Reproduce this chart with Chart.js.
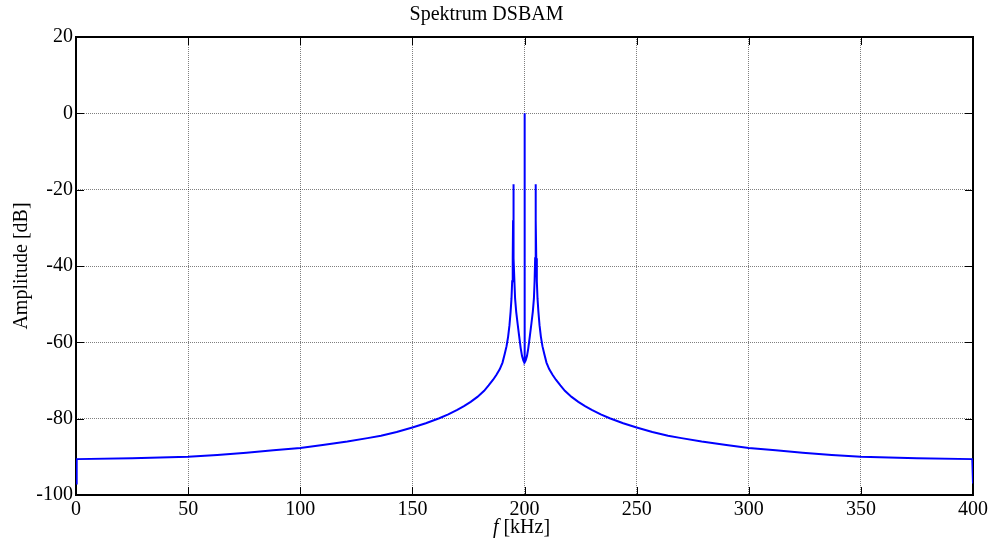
<!DOCTYPE html>
<html>
<head>
<meta charset="utf-8">
<script src="https://cdn.jsdelivr.net/npm/chart.js@4/dist/chart.umd.min.js"></script>
<style>
  html, body { margin: 0; padding: 0; background: #fff; }
  #wrap { width: 992px; height: 542px; position: relative; }
</style>
</head>
<body>
<div id="wrap"><canvas id="c"></canvas></div>
<script>
// spectrum: frequency (kHz) and amplitude (dB)
const freqKHz = [
  0, 0.3, 25, 50, 63, 76, 88, 100, 110, 121, 130, 136, 143, 150, 156, 162, 166, 170,
  173, 176, 179, 182, 184, 186, 187.5, 189, 190.2, 191.2, 192, 192.7, 193.3, 193.8,
  194.2, 194.5, 194.75, 194.9, 195, 195.1, 195.25, 195.5, 195.8, 196.3, 196.9, 197.6,
  198.3, 198.9, 199.5, 199.85, 200, 200.15, 200.5, 201.1, 201.7, 202.4, 203.1, 203.7,
  204.2, 204.5, 204.75, 204.9, 205, 205.1, 205.25, 205.5, 205.8, 206.2, 206.7, 207.3,
  208, 208.8, 209.8, 211, 212.5, 214, 216, 218, 221, 224, 227, 230, 234, 238, 244,
  250, 257, 264, 270, 279, 290, 300, 312, 324, 337, 350, 375, 399.7, 400
];
const ampDb = [
  -97, -90.6, -90.4, -90.0, -89.5, -88.9, -88.3, -87.7, -86.9, -86.0, -85.1, -84.5, -83.5, -82.3, -81.2, -79.9, -78.9, -77.7,
  -76.7, -75.6, -74.3, -72.7, -71.3, -69.8, -68.5, -67.0, -65.3, -63.0, -61.0, -58.5, -55.5, -52,
  -48.5, -44, -38, -28, -18.6, -28, -38, -44, -48.5, -52, -55, -58.3,
  -61.5, -63.6, -64.8, -65.2, 0, -65.2, -64.8, -63.6, -61.5, -58.3, -55, -52,
  -48.5, -44, -38, -28, -18.6, -28, -38, -44, -48.5, -52, -55.5, -58.5,
  -61.0, -63.0, -65.3, -67.0, -68.5, -69.8, -71.3, -72.7, -74.3, -75.6, -76.7, -77.7, -78.9, -79.9, -81.2,
  -82.3, -83.5, -84.5, -85.1, -86.0, -86.9, -87.7, -88.3, -88.9, -89.5, -90.0, -90.4, -90.6, -97
];
const xTicks = [0, 50, 100, 150, 200, 250, 300, 350, 400];
const yTicks = [-100, -80, -60, -40, -20, 0, 20];

const serif = "'Liberation Serif', 'Times New Roman', serif";

// black box + inward tick marks + x title with italic f
const framePlugin = {
  id: 'frame',
  beforeDatasetsDraw(chart) {
    const { ctx, chartArea: a, scales: { x, y } } = chart;
    ctx.save();
    ctx.strokeStyle = '#000';
    ctx.lineWidth = 1;
    ctx.beginPath();
    xTicks.forEach(v => {
      const px = Math.round(x.getPixelForValue(v)) + 0.5;
      ctx.moveTo(px, a.bottom); ctx.lineTo(px, a.bottom - 8);
      ctx.moveTo(px, a.top); ctx.lineTo(px, a.top + 8);
    });
    yTicks.forEach(v => {
      const py = Math.round(y.getPixelForValue(v)) + 0.5;
      ctx.moveTo(a.left, py); ctx.lineTo(a.left + 8, py);
      ctx.moveTo(a.right, py); ctx.lineTo(a.right - 8, py);
    });
    ctx.stroke();
    ctx.lineWidth = 2;
    ctx.strokeRect(a.left, a.top, a.right - a.left, a.bottom - a.top);
    ctx.restore();
  },
  afterDraw(chart) {
    const { ctx, chartArea: a } = chart;
    ctx.save();
    ctx.fillStyle = '#000';
    ctx.textBaseline = 'middle';
    const fTxt = 'f', rest = ' [kHz]';
    ctx.font = 'italic 20px ' + serif;
    const w1 = ctx.measureText(fTxt).width;
    ctx.font = '20px ' + serif;
    const w2 = ctx.measureText(rest).width;
    const cx = (a.left + a.right) / 2 - 3;
    const x0 = cx - (w1 + w2) / 2;
    const ty = 528;
    ctx.font = 'italic 20px ' + serif;
    ctx.fillText(fTxt, x0, ty);
    ctx.font = '20px ' + serif;
    ctx.fillText(rest, x0 + w1, ty);
    ctx.restore();
  }
};

const points = freqKHz.map((f, i) => ({ x: f, y: ampDb[i] }));

new Chart(document.getElementById('c'), {
  type: 'line',
  data: {
    datasets: [{
      data: points,
      borderColor: '#0000ff',
      borderWidth: 2,
      pointRadius: 0,
      tension: 0,
      fill: false
    }]
  },
  options: {
    responsive: true,
    maintainAspectRatio: false,
    animation: false,
    layout: { padding: { left: 0, right: 19, top: 0, bottom: 0 } },
    plugins: {
      legend: { display: false },
      tooltip: { enabled: false },
      title: {
        display: true,
        text: 'Spektrum DSBAM',
        color: '#000',
        font: { family: serif, size: 20, weight: 'normal' },
        padding: { top: 3, bottom: 10 }
      }
    },
    scales: {
      x: {
        type: 'linear',
        min: 0, max: 400,
        afterFit: s => { s.height = 47; },
        afterBuildTicks: s => { s.ticks = xTicks.map(v => ({ value: v })); },
        grid: { color: 'rgba(0,0,0,0.5)', drawTicks: false, lineWidth: 1 },
        border: { display: false, dash: [1, 1] },
        ticks: {
          color: '#000',
          font: { family: serif, size: 20 },
          padding: 3,
          maxRotation: 0,
          callback: v => String(v)
        },
        title: { display: false }
      },
      y: {
        min: -100, max: 20,
        afterFit: s => { s.width = 76; },
        afterBuildTicks: s => { s.ticks = yTicks.map(v => ({ value: v })); },
        grid: { color: 'rgba(0,0,0,0.5)', drawTicks: false, lineWidth: 1 },
        border: { display: false, dash: [1, 1] },
        ticks: {
          color: '#000',
          font: { family: serif, size: 20 },
          padding: 3,
          callback: v => String(v)
        },
        title: {
          display: true,
          text: 'Amplitude [dB]',
          color: '#000',
          font: { family: serif, size: 20 },
          padding: { top: 10, bottom: 0 }
        }
      }
    }
  },
  plugins: [framePlugin]
});
</script>
</body>
</html>
